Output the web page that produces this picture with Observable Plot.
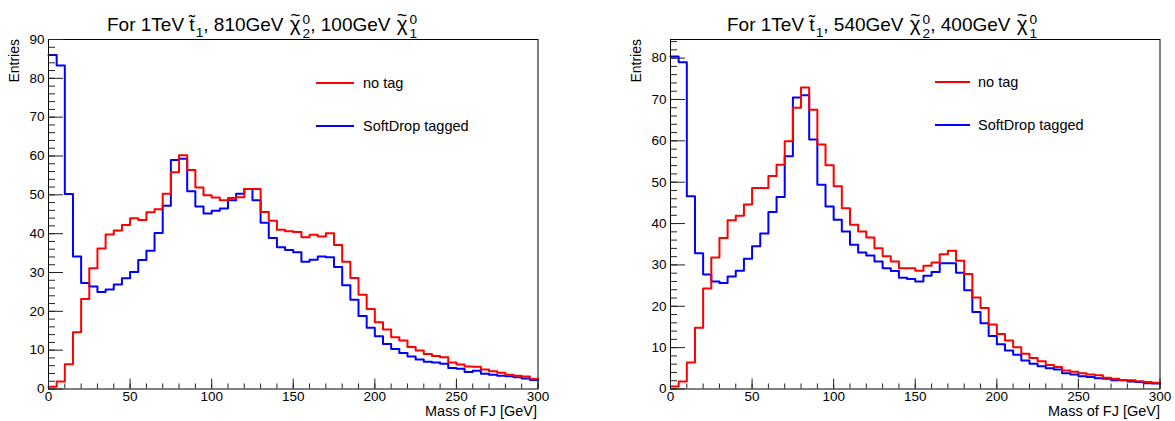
<!DOCTYPE html>
<html>
<head>
<meta charset="utf-8">
<script src="https://cdn.jsdelivr.net/npm/d3@7"></script>
<script src="https://cdn.jsdelivr.net/npm/@observablehq/plot@0.6"></script>
<style>
  html, body { margin: 0; padding: 0; background: #fff; }
  body { font-family: "Liberation Sans", Arial, sans-serif; color: #000; }
  #wrap { position: relative; width: 1175px; height: 421px; overflow: hidden; background: #fff; }
  .panel { position: absolute; top: 0; }
  .panel svg { display: block; }
  .title { position: absolute; font-size: 19px; line-height: 19px; white-space: nowrap; }
  .ss { display: inline-block; font-size: 0.72em; line-height: 1; vertical-align: -0.5em; text-align: left; margin-left: 1px; }
  .ss span { display: block; }
  .sub { font-size: 0.72em; vertical-align: -0.45em; line-height: 1; margin-left: 1px; }
  .chi { position: relative; display: inline-block; font-size: 1.08em; padding: 0 1px; }
  .chi::before { content: "~"; position: absolute; left: 0; right: 0; text-align: center; top: -7px; font-size: 0.85em; line-height: 1; }
  .ylab { position: absolute; font-size: 14px; line-height: 14px; writing-mode: vertical-rl; transform: rotate(180deg); white-space: nowrap; }
  .xlab { position: absolute; font-size: 14.5px; line-height: 14px; white-space: nowrap; text-align: right; }
  .leg { position: absolute; font-size: 14.5px; line-height: 16px; white-space: nowrap; }
  .legline { position: absolute; height: 2px; }
</style>
</head>
<body>
<div id="wrap">
  <div id="left" class="panel" style="left:0px"></div>
  <div id="right" class="panel" style="left:587px"></div>

  <div class="title" style="left:107px;top:13px">For 1TeV t&#x303;<span class="sub">1</span>, 810GeV <span class="chi">&#x3C7;</span><span class="ss"><span>0</span><span>2</span></span>, 100GeV <span class="chi">&#x3C7;</span><span class="ss"><span>0</span><span>1</span></span></div>
  <div class="title" style="left:727px;top:13px">For 1TeV t&#x303;<span class="sub">1</span>, 540GeV <span class="chi">&#x3C7;</span><span class="ss"><span>0</span><span>2</span></span>, 400GeV <span class="chi">&#x3C7;</span><span class="ss"><span>0</span><span>1</span></span></div>

  <div class="ylab" style="left:7px;top:39px">Entries</div>
  <div class="ylab" style="left:629px;top:39px">Entries</div>
  <div class="xlab" style="right:638px;top:404px">Mass of FJ [GeV]</div>
  <div class="xlab" style="right:15px;top:404px">Mass of FJ [GeV]</div>

  <div class="legline" style="left:316px;width:38px;top:82px;background:#ff0000"></div>
  <div class="leg" style="left:363px;top:75px">no tag</div>
  <div class="legline" style="left:316px;width:38px;top:125px;background:#0000ff"></div>
  <div class="leg" style="left:363px;top:118px">SoftDrop tagged</div>

  <div class="legline" style="left:935px;width:35px;top:81px;background:#ff0000"></div>
  <div class="leg" style="left:978px;top:74px">no tag</div>
  <div class="legline" style="left:935px;width:35px;top:124px;background:#0000ff"></div>
  <div class="leg" style="left:978px;top:117px">SoftDrop tagged</div>
</div>
<script>
// Bin edges (GeV), 5 GeV bins from 0 to 300
const binEdges = [0,5,10,15,20,25,30,35,40,45,50,55,60,65,70,75,80,85,90,95,100,105,110,115,120,125,130,135,140,145,150,155,160,165,170,175,180,185,190,195,200,205,210,215,220,225,230,235,240,245,250,255,260,265,270,275,280,285,290,295,300];

// Left: 1TeV stop, 810GeV chi2, 100GeV chi1
const leftNoTag = [0.6,1.9,6.4,14.6,23.2,31.1,36.2,39.8,40.8,42.2,
  44.0,43.5,45.5,46.3,50.3,55.8,60.2,56.4,51.9,49.9,
  49.3,48.6,49.2,49.4,51.5,51.5,45.6,43.3,41.0,40.6,
  40.4,39.1,39.7,39.3,40.1,37.1,32.8,28.6,24.3,20.6,
  17.2,15.3,13.3,12.5,10.8,9.9,9.0,8.5,8.2,6.8,
  6.3,5.8,5.7,5.0,4.6,4.2,3.7,3.4,3.2,2.6];
const leftSoftDrop = [86.0,83.3,50.2,34.1,27.3,26.4,25.0,25.6,26.9,28.5,
  30.1,33.2,35.6,40.2,47.2,59.0,59.3,50.9,47.0,45.2,
  45.9,46.5,48.6,50.3,51.5,48.6,42.8,38.9,36.5,35.8,
  35.2,32.8,33.3,34.1,33.9,31.4,26.7,23.0,18.8,15.8,
  13.6,11.6,10.3,9.3,8.4,7.6,7.0,6.8,6.5,5.4,
  5.2,4.4,4.7,3.9,3.7,3.4,3.3,3.0,2.7,2.3];

// Right: 1TeV stop, 540GeV chi2, 400GeV chi1
const rightNoTag = [0.6,1.8,6.4,14.8,24.3,31.8,36.5,40.8,41.9,44.6,
  48.6,48.6,51.5,54.2,59.9,68.0,72.9,67.5,59.1,54.1,
  49.0,43.7,39.7,38.1,36.6,34.0,32.1,30.8,29.2,29.2,
  28.6,29.8,30.6,32.6,33.4,31.0,27.8,22.1,19.6,15.6,
  13.3,11.7,10.1,8.5,7.5,6.7,5.8,5.3,4.5,4.2,
  3.8,3.5,3.3,2.7,2.5,2.2,2.1,1.9,1.7,1.5];
const rightSoftDrop = [80.4,79.0,46.6,32.8,27.7,26.0,25.6,27.2,28.6,31.5,
  34.5,37.6,42.8,46.4,56.3,70.5,71.0,60.3,49.4,44.1,
  40.9,38.1,34.9,33.0,32.3,30.8,29.2,28.5,26.9,26.6,
  26.0,27.4,28.3,30.4,30.4,28.1,23.9,18.6,15.9,12.8,
  10.8,9.3,8.3,6.9,6.1,5.5,5.0,4.7,3.8,3.5,
  3.1,2.9,2.6,2.5,2.1,2.1,1.8,1.7,1.4,1.3];

// Axis ticks
const xTicksMajor = [0,50,100,150,200,250,300];
const xTicksMinor = [0,10,20,30,40,50,60,70,80,90,100,110,120,130,140,150,160,170,180,190,200,210,220,230,240,250,260,270,280,290,300];
const leftYTicksMajor = [0,10,20,30,40,50,60,70,80,90];
const leftYTicksMinor = [0,2,4,6,8,10,12,14,16,18,20,22,24,26,28,30,32,34,36,38,40,42,44,46,48,50,52,54,56,58,60,62,64,66,68,70,72,74,76,78,80,82,84,86,88,90];
const rightYTicksMajor = [0,10,20,30,40,50,60,70,80];
const rightYTicksMinor = [0,2,4,6,8,10,12,14,16,18,20,22,24,26,28,30,32,34,36,38,40,42,44,46,48,50,52,54,56,58,60,62,64,66,68,70,72,74,76,78,80,82,84];

function steps(values) {
  const pts = [];
  values.forEach((v, i) => {
    pts.push({x: binEdges[i], y: v});
    pts.push({x: binEdges[i + 1], y: v});
  });
  return pts;
}

function panel({noTag, softDrop, yMax, yMajor, yMinor, width, marginLeft, marginRight}) {
  return Plot.plot({
    width, height: 421,
    marginLeft, marginRight, marginTop: 39, marginBottom: 32.5,
    x: {domain: [0, 300], label: null},
    y: {domain: [0, yMax], label: null},
    style: {fontFamily: "'Liberation Sans', Arial, sans-serif", fontSize: "13.5px", color: "#000", background: "transparent"},
    marks: [
      Plot.lineY(steps(softDrop), {x: "x", y: "y", stroke: "#0000ff", strokeWidth: 2}),
      Plot.lineY(steps(noTag), {x: "x", y: "y", stroke: "#ff0000", strokeWidth: 2}),
      Plot.frame({stroke: "#000", strokeWidth: 1}),
      Plot.axisX(xTicksMinor, {tickSize: -5, fill: "none", label: null, stroke: "#222"}),
      Plot.axisX(xTicksMajor, {tickSize: -10, fill: "none", label: null, stroke: "#222"}),
      Plot.axisX(xTicksMajor, {tickSize: 0, tickPadding: 2, tickFormat: d => String(d), label: null}),
      Plot.axisY(yMinor, {tickSize: -7, fill: "none", label: null, stroke: "#222"}),
      Plot.axisY(yMajor, {tickSize: -15, fill: "none", label: null, stroke: "#222"}),
      Plot.axisY(yMajor, {tickSize: 0, tickPadding: 4, tickFormat: d => String(d), label: null})
    ]
  });
}

document.getElementById("left").append(panel({
  noTag: leftNoTag, softDrop: leftSoftDrop, yMax: 90,
  yMajor: leftYTicksMajor, yMinor: leftYTicksMinor,
  width: 587, marginLeft: 48, marginRight: 49.5
}));
document.getElementById("right").append(panel({
  noTag: rightNoTag, softDrop: rightSoftDrop, yMax: 84.5,
  yMajor: rightYTicksMajor, yMinor: rightYTicksMinor,
  width: 588, marginLeft: 83, marginRight: 15.5
}));
</script>
</body>
</html>
